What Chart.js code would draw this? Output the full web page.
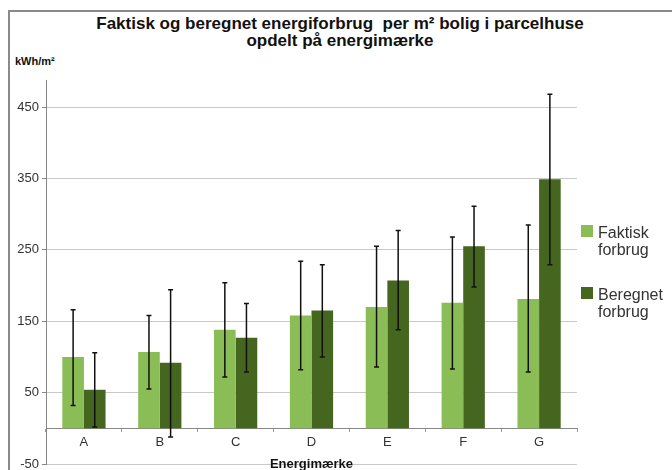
<!DOCTYPE html>
<html>
<head>
<meta charset="utf-8">
<script src="https://cdn.jsdelivr.net/npm/chart.js@4"></script>
<style>
  body { margin: 0; background: #fff; font-family: "Liberation Sans", Arial, sans-serif; }
  #wrap { position: relative; width: 672px; height: 470px; overflow: hidden; }
  #frame { position: absolute; left: 8px; top: 10px; width: 700px; height: 500px; border-left: 2px solid #8a8a8a; border-top: 2px solid #8a8a8a; }
  #title { position: absolute; left: 8px; width: 664px; top: 15px; text-align: center; font-weight: bold; font-size: 17px; line-height: 17px; color: #111; }
  #unit { position: absolute; left: 15px; top: 55px; font-weight: bold; font-size: 11px; color: #111; }
  #xtitle { position: absolute; left: 46px; width: 531px; top: 456px; text-align: center; font-weight: bold; font-size: 13px; color: #111; }
  .leg { position: absolute; left: 581px; font-size: 16px; line-height: 17px; color: #333; }
  .leg span { position: absolute; left: 0; top: 1px; width: 12px; height: 12px; }
  .leg div { margin-left: 17px; }
  canvas { position: absolute; left: 0; top: 0; }
</style>
</head>
<body>
<div id="wrap">
  <div id="frame"></div>
  <div id="title">Faktisk og beregnet energiforbrug&nbsp; per m² bolig i parcelhuse<br>opdelt på energimærke</div>
  <div id="unit">kWh/m²</div>
  <canvas id="chart" width="672" height="470"></canvas>
  <div id="xtitle">Energimærke</div>
  <div class="leg" style="top:224px"><span style="background:#8abd56"></span><div>Faktisk<br>forbrug</div></div>
  <div class="leg" style="top:286px"><span style="background:#45661f"></span><div>Beregnet<br>forbrug</div></div>
</div>
<script>
// energimærker
const labels = ['A', 'B', 'C', 'D', 'E', 'F', 'G'];

// faktisk forbrug (kWh/m2) med usikkerhed
const faktisk     = [100, 107, 138, 158, 170, 176, 181];
const faktiskLow  = [32, 55, 72, 82, 86, 83, 79];
const faktiskHigh = [166, 158, 204, 234, 255, 268, 285];

// beregnet forbrug
const beregnet     = [54, 92, 127, 165, 207, 255, 349];
const beregnetLow  = [2, -12, 79, 100, 138, 198, 229];
const beregnetHigh = [106, 194, 175, 229, 277, 311, 468];

const yTicks = [-50, 50, 150, 250, 350, 450];

const lows = [faktiskLow, beregnetLow];
const highs = [faktiskHigh, beregnetHigh];

// fejlstreger tegnes oven på søjlerne
const errorBars = {
    id: 'errorBars',
    afterDatasetsDraw(chart) {
        const ctx = chart.ctx;
        const y = chart.scales.y;
        ctx.save();
        ctx.strokeStyle = '#111';
        ctx.lineWidth = 1.5;
        chart.data.datasets.forEach((ds, di) => {
            const meta = chart.getDatasetMeta(di);
            meta.data.forEach((bar, i) => {
                const top = y.getPixelForValue(highs[di][i]);
                const bot = y.getPixelForValue(lows[di][i]);
                ctx.beginPath();
                ctx.moveTo(bar.x, top);
                ctx.lineTo(bar.x, bot);
                ctx.moveTo(bar.x - 2.5, top);
                ctx.lineTo(bar.x + 2.5, top);
                ctx.moveTo(bar.x - 2.5, bot);
                ctx.lineTo(bar.x + 2.5, bot);
                ctx.stroke();
            });
        });
        ctx.restore();
    }
};

new Chart(document.getElementById('chart'), {
    type: 'bar',
    data: {
        labels: labels,
        datasets: [{
            label: 'Faktisk forbrug',
            data: faktisk,
            backgroundColor: '#8abd56'
        }, {
            label: 'Beregnet forbrug',
            data: beregnet,
            backgroundColor: '#45661f'
        }]
    },
    options: {
        responsive: false,
        animation: false,
        layout: { padding: { left: 0, right: 95, top: 80, bottom: 6 } },
        plugins: { legend: { display: false }, title: { display: false }, tooltip: { enabled: false } },
        datasets: { bar: { categoryPercentage: 0.57, barPercentage: 1 } },
        scales: {
            x: {
                position: { y: 0 },
                afterFit: s => { s.height = 0; s.paddingLeft = 0; s.paddingRight = 0; },
                grid: { offset: true, drawOnChartArea: false, drawTicks: true, tickLength: 3, color: '#999' },
                border: { display: true, color: '#888', width: 1 },
                ticks: { color: '#333', font: { family: 'Liberation Sans', size: 13 }, padding: 3 }
            },
            y: {
                min: -50,
                max: 488,
                afterFit: s => { s.width = 46; s.paddingTop = 0; s.paddingBottom = 0; },
                afterBuildTicks: s => { s.ticks = yTicks.map(v => ({ value: v })); },
                grid: { color: '#c8c8c8', lineWidth: 1, tickLength: 4, tickColor: '#888' },
                border: { display: true, color: '#888', width: 1 },
                ticks: { color: '#333', font: { family: 'Liberation Sans', size: 13 }, padding: 3 }
            }
        }
    },
    plugins: [errorBars]
});
</script>
</body>
</html>
